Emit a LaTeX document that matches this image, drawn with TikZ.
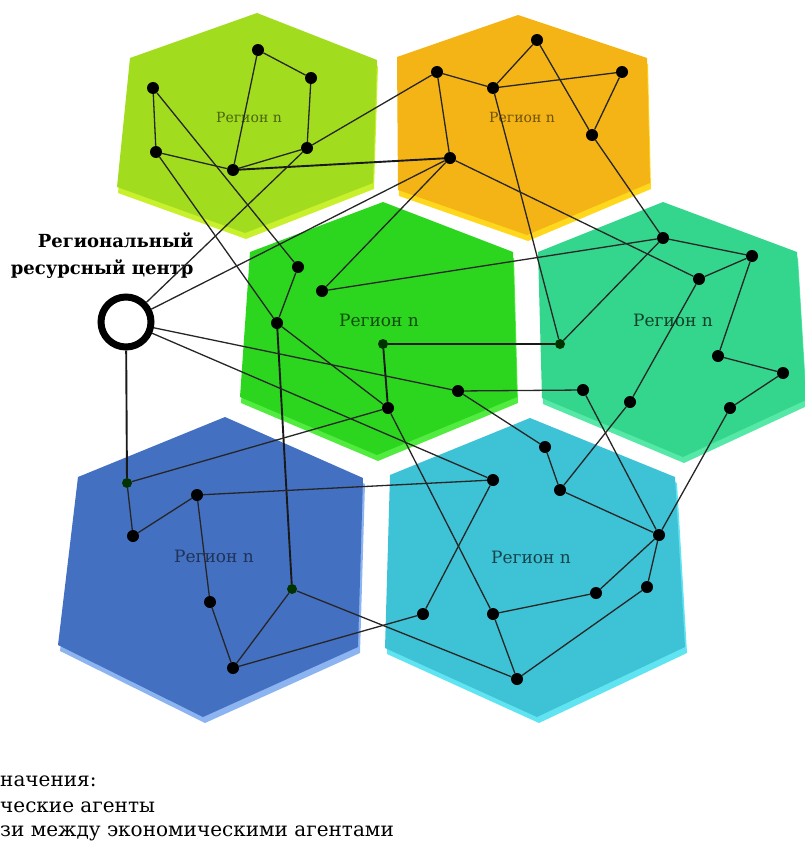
\documentclass[tikz,border=0pt]{standalone}
\usepackage{fontspec}
\setmainfont{DejaVu Serif}
\usepackage{tikz}

\definecolor{hexYG}{HTML}{A2DC1E}
\definecolor{hexYGedge}{HTML}{C8F02C}
\definecolor{hexOR}{HTML}{F5B416}
\definecolor{hexORedge}{HTML}{FFD81E}
\definecolor{hexGR}{HTML}{2CD61E}
\definecolor{hexGRedge}{HTML}{52EC40}
\definecolor{hexTE}{HTML}{33D68C}
\definecolor{hexTEedge}{HTML}{55E8A6}
\definecolor{hexBL}{HTML}{4470C2}
\definecolor{hexBLedge}{HTML}{8CB4F0}
\definecolor{hexCY}{HTML}{3EC2D6}
\definecolor{hexCYedge}{HTML}{60E4F2}

\begin{document}
\begin{tikzpicture}[
        x=1pt, y=-1pt,
        agent/.style = {circle, fill=black, inner sep=0pt, minimum size=12pt},
        minor/.style = {circle, fill=black!80!green, inner sep=0pt, minimum size=10pt},
        link/.style = {draw=black!85, line width=1.3pt},
        main link/.style = {draw=black!90, line width=1.9pt},
        hexlabel/.style = {font=\fontsize{17}{20}\selectfont},
        toplabel/.style = {font=\fontsize{14}{16}\selectfont},
        legend/.style = {anchor=west, inner sep=0pt, font=\fontsize{20}{24}\selectfont},
        centre/.style = {circle, draw=black, line width=7pt, fill=white, minimum size=50pt, inner sep=0pt}
    ]
    \useasboundingbox (0,0) rectangle (804,843);

    % Regions
    \fill[hexYGedge, shift={(1,6)}] (257,13) -- (377,60) -- (373,183) -- (245,233) -- (117,187) -- (130,58) -- cycle;
    \fill[hexYG] (257,13) -- (377,60) -- (373,183) -- (245,233) -- (117,187) -- (130,58) -- cycle;
    \fill[hexORedge, shift={(1,6)}] (518,15) -- (647,58) -- (650,183) -- (527,235) -- (398,190) -- (397,57) -- cycle;
    \fill[hexOR] (518,15) -- (647,58) -- (650,183) -- (527,235) -- (398,190) -- (397,57) -- cycle;
    \fill[hexGRedge, shift={(1,6)}] (383,202) -- (513,252) -- (517,397) -- (377,455) -- (240,397) -- (250,252) -- cycle;
    \fill[hexGR] (383,202) -- (513,252) -- (517,397) -- (377,455) -- (240,397) -- (250,252) -- cycle;
    \fill[hexTEedge, shift={(1,6)}] (663,202) -- (797,252) -- (806,400) -- (683,457) -- (542,398) -- (538,252) -- cycle;
    \fill[hexTE] (663,202) -- (797,252) -- (806,400) -- (683,457) -- (542,398) -- (538,252) -- cycle;
    \fill[hexBLedge, shift={(2,6)}] (225,417) -- (363,478) -- (358,647) -- (203,717) -- (58,645) -- (78,477) -- cycle;
    \fill[hexBL] (225,417) -- (363,478) -- (358,647) -- (203,717) -- (58,645) -- (78,477) -- cycle;
    \fill[hexCYedge, shift={(2,6)}] (530,418) -- (675,477) -- (685,647) -- (537,717) -- (385,648) -- (390,475) -- cycle;
    \fill[hexCY] (530,418) -- (675,477) -- (685,647) -- (537,717) -- (385,648) -- (390,475) -- cycle;

    \node[toplabel, text=hexYG!45!black] (lyg) at (249,117) {Регион n};
    \node[toplabel, text=hexOR!45!black] (lor) at (522,117) {Регион n};
    \node[hexlabel, text=hexGR!35!black] (lgr) at (379,320) {Регион n};
    \node[hexlabel, text=hexTE!30!black] (lte) at (673,320) {Регион n};
    \node[hexlabel, text=hexBL!45!black] (lbl) at (214,556) {Регион n};
    \node[hexlabel, text=hexCY!35!black] (lcy) at (531,557) {Регион n};

    % Resource centre
    \node[centre] (rc) at (126,322) {};
    \node[font=\bfseries\fontsize{18}{27}\selectfont, align=right, anchor=east] (rclabel) at (197,256) {Региональный\\ресурсный центр};

    % Agents
    \node[agent] (y1) at (153,88) {};
    \node[agent] (y2) at (258,50) {};
    \node[agent] (y3) at (311,78) {};
    \node[agent] (y4) at (307,148) {};
    \node[agent] (y5) at (156,152) {};
    \node[agent] (y6) at (233,170) {};

    \node[agent] (o1) at (437,72) {};
    \node[agent] (o2) at (537,40) {};
    \node[agent] (o3) at (622,72) {};
    \node[agent] (o4) at (493,88) {};
    \node[agent] (o5) at (592,135) {};
    \node[agent] (o6) at (450,158) {};

    \node[agent] (g1) at (298,267) {};
    \node[agent] (g2) at (322,291) {};
    \node[agent] (g3) at (277,323) {};
    \node[minor] (g4) at (383,344) {};
    \node[agent] (g5) at (458,391) {};
    \node[agent] (g6) at (388,408) {};

    \node[agent] (t1) at (663,238) {};
    \node[agent] (t2) at (752,256) {};
    \node[agent] (t3) at (699,279) {};
    \node[minor] (t4) at (560,344) {};
    \node[agent] (t5) at (718,356) {};
    \node[agent] (t6) at (783,373) {};
    \node[agent] (t7) at (583,390) {};
    \node[agent] (t8) at (630,402) {};
    \node[agent] (t9) at (730,408) {};

    \node[agent] (s1) at (545,447) {};
    \node[agent] (s2) at (493,480) {};
    \node[agent] (s3) at (560,490) {};
    \node[agent] (s4) at (659,535) {};
    \node[agent] (s5) at (647,587) {};
    \node[agent] (s6) at (596,593) {};
    \node[agent] (s7) at (423,614) {};
    \node[agent] (s8) at (493,614) {};
    \node[agent] (s9) at (517,679) {};

    \node[minor] (b1) at (127,483) {};
    \node[agent] (b2) at (197,495) {};
    \node[agent] (b3) at (133,536) {};
    \node[minor] (b4) at (292,589) {};
    \node[agent] (b5) at (233,668) {};
    \node[agent] (b6) at (210,602) {};

    % Links
    \draw[link] (y2) -- (y3) -- (y4) -- (y6) -- (y5) -- (y1);
    \draw[link] (y2) -- (y6);
    \draw[link] (y1) -- (g1);
    \draw[link] (y5) -- (g3);
    \draw[link] (y4) -- (o1);
    \draw[main link] (y6) -- (o6);
    \draw[link] (rc) -- (y4);

    \draw[link] (o1) -- (o4) -- (o2) -- (o5) -- (o3) -- (o4);
    \draw[link] (o1) -- (o6);
    \draw[link] (o5) -- (t1);
    \draw[link] (o4) -- (t4);
    \draw[link] (o6) -- (t3);
    \draw[link] (o6) -- (g2);
    \draw[link] (rc) -- (o6);

    \draw[link] (g1) -- (g3) -- (g6);
    \draw[main link] (g6) -- (g4) -- (t4);
    \draw[link] (g2) -- (t1);
    \draw[main link] (g3) -- (b4);
    \draw[link] (g5) -- (t7);
    \draw[link] (g5) -- (s1);
    \draw[link] (g6) -- (s8);
    \draw[link] (rc) -- (g5);

    \draw[link] (t4) -- (t1) -- (t2) -- (t3) -- (t8) -- (s3);
    \draw[link] (t2) -- (t5) -- (t6) -- (t9) -- (s4);
    \draw[link] (t7) -- (s4);

    \draw[link] (s1) -- (s3) -- (s4) -- (s5) -- (s9) -- (s8) -- (s6) -- (s4);
    \draw[link] (s2) -- (s7);
    \draw[link] (rc) -- (s2);

    \draw[main link] (rc) -- (b1);
    \draw[link] (b1) -- (b3) -- (b2) -- (b6) -- (b5) -- (b4) -- (s9);
    \draw[link] (b1) -- (g6);
    \draw[link] (b2) -- (s2);
    \draw[link] (b5) -- (s7);

    % Legend
    \node[legend] (leg1) at (0,781) {начения:};
    \node[legend] (leg2) at (0,807) {ческие агенты};
    \node[legend] (leg3) at (0,833) {зи между экономическими агентами};
\end{tikzpicture}
\end{document}
